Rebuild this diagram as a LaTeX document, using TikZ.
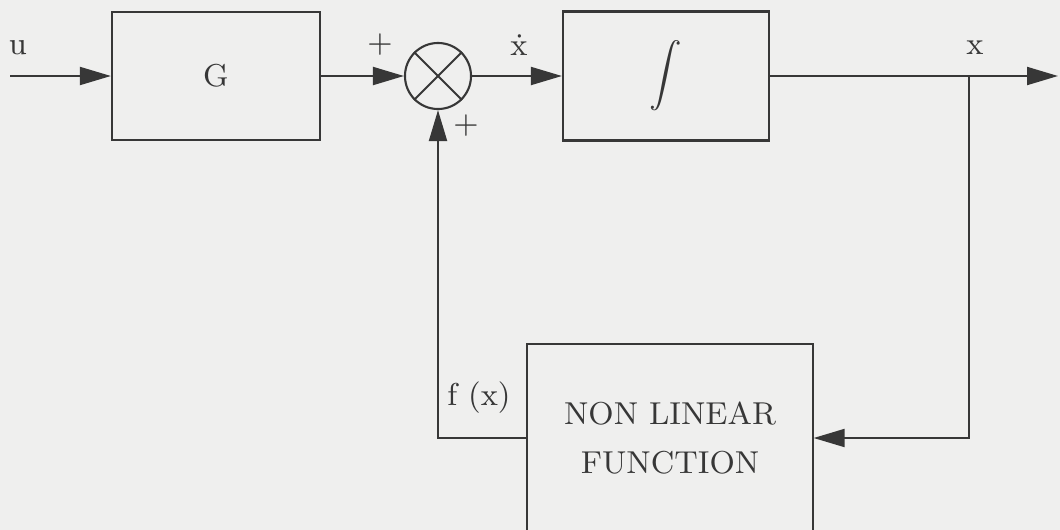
\documentclass[tikz,border=0pt]{standalone}
\usepackage{amsmath}
\usepackage{tikz}
\usetikzlibrary{arrows.meta}
\usepackage{xcolor}
\definecolor{ink}{RGB}{55,55,55}
\definecolor{paper}{RGB}{239,239,238}

\begin{document}
\begin{tikzpicture}[x=0.01cm,y=-0.01cm,>={Triangle[length=8.8pt,width=5.1pt]},
  font=\small,line width=0.6pt,draw=ink,text=ink,
  block/.style={draw=ink,line width=0.6pt,inner sep=0pt},
  sumnode/.style={draw=ink,circle,minimum size=0.66cm,inner sep=0pt},
  sig/.style={->,ink}]
\fill[paper] (0,0) rectangle (1060,530);
\useasboundingbox (0,0) rectangle (1060,530);
\node[block,minimum width=2.08cm,minimum height=1.28cm] (gbox) at (216,76) {G};
\node[sumnode] (sum) at (438,76) {};
\draw[ink] (sum.north west) -- (sum.south east);
\draw[ink] (sum.north east) -- (sum.south west);
\node[block,minimum width=2.06cm,minimum height=1.29cm] (integ) at (666,76) {$\displaystyle\int$};
\node[block,minimum width=2.85cm,minimum height=1.88cm,align=center] (nonlin) at (670,438)
  {NON LINEAR\\[3pt]FUNCTION};
\coordinate (uin) at (10,76);
\coordinate (xout) at (1058,76);
\coordinate (branch) at (969,76);
\coordinate (rcorner) at (969,438);
\coordinate (lcorner) at (438,438);
\draw[sig] (uin) -- (gbox.west);
\draw[sig] (gbox.east) -- (sum.west);
\draw[sig] (sum.east) -- (integ.west);
\draw[sig] (integ.east) -- (xout);
\draw[sig] (branch) -- (rcorner) -- (nonlin.east);
\draw[sig] (nonlin.west) -- (lcorner) -- (sum.south);
\node (ulab) at (18,48) {u};
\node (plustop) at (380,45) {$+$};
\node (plusbot) at (466,126) {$+$};
\node (xdot) at (519,45) {\.{x}};
\node (xlab) at (975,48) {x};
\node (fxlab) at (479,398) {f (x)};
\end{tikzpicture}
\end{document}
